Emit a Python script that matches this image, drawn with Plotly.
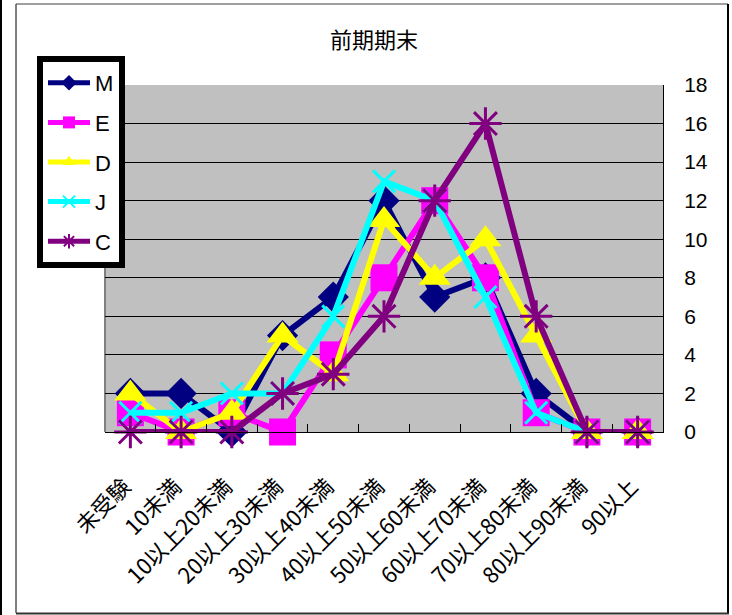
import plotly.graph_objects as go

# 得点帯ごとの人数（前期期末）
categories = ["未受験", "10未満", "10以上20未満", "20以上30未満", "30以上40未満",
              "40以上50未満", "50以上60未満", "60以上70未満", "70以上80未満",
              "80以上90未満", "90以上"]
M = [2, 2, 0, 5, 7, 12, 7, 8, 2, 0, 0]
E = [1, 0, 1, 0, 4, 8, 12, 8, 1, 0, 0]
D = [2, 0, 1, 5, 3, 11, 8, 10, 5, 0, 0]
J = [1, 1, 2, 2, 6, 13, 12, 7, 1, 0, 0]
C = [0, 0, 0, 2, 3, 6, 12, 16, 6, 0, 0]

W, H = 732, 615
ML, MR, MT, MB = 105, 69, 85, 183
PW, PH = W - ML - MR, H - MT - MB

FONT = "Liberation Sans, Arial, Noto Sans CJK JP, sans-serif"
CJK = "Noto Sans CJK JP, sans-serif"


def px_x(px):
    return (px - ML) / PW


def px_y(py):
    return (H - MB - py) / PH


series = [
    ("M", M, "#000080", "diamond", 24, 0),
    ("E", E, "#FF00FF", "square", 27, 0),
    ("D", D, "#FFFF00", "triangle-up", 28, 0),
    ("J", J, "#00FFFF", "x-thin-open", 22, 3),
    ("C", C, "#800080", "asterisk-open", 27, 3),
]

fig = go.Figure()
for name, vals, color, symbol, size, lw in series:
    fig.add_trace(go.Scatter(
        x=categories, y=vals, name=name, legendgroup=name,
        mode="lines+markers",
        line=dict(color=color, width=6),
        marker=dict(symbol=symbol, size=size, color=color,
                    line=dict(color=color, width=lw)),
        cliponaxis=False,
    ))

shapes = [
    # outer chart frame
    dict(type="line", xref="paper", yref="paper", x0=px_x(16), x1=px_x(16),
         y0=px_y(4), y1=px_y(613), line=dict(color="#000000", width=1)),
    dict(type="line", xref="paper", yref="paper", x0=px_x(16), x1=px_x(728),
         y0=px_y(4), y1=px_y(4), line=dict(color="#404040", width=1)),
    dict(type="line", xref="paper", yref="paper", x0=px_x(728), x1=px_x(728),
         y0=px_y(4), y1=px_y(614), line=dict(color="#000000", width=2)),
    dict(type="line", xref="paper", yref="paper", x0=px_x(16), x1=px_x(729),
         y0=px_y(613.5), y1=px_y(613.5), line=dict(color="#333333", width=2)),
    dict(type="line", xref="paper", yref="paper", x0=px_x(1), x1=px_x(1),
         y0=px_y(0), y1=px_y(615), line=dict(color="#000000", width=2)),
    # left edge of the plot area
    dict(type="line", xref="paper", yref="paper", x0=0, x1=0, y0=0, y1=1,
         line=dict(color="#808080", width=2), layer="below"),
]

fig.update_layout(
    width=W, height=H, autosize=False,
    margin=dict(l=ML, r=MR, t=MT, b=MB, pad=0),
    paper_bgcolor="#FFFFFF", plot_bgcolor="#C0C0C0",
    font=dict(family=FONT, color="#000000"),
    title=dict(text="前期期末", x=px_x(374), xref="paper", xanchor="center",
               y=1 - 40 / H, yref="container", yanchor="middle",
               font=dict(size=22, family=CJK)),
    showlegend=True,
    legend=dict(x=px_x(37), y=px_y(56), xanchor="left", yanchor="top",
                bgcolor="#FFFFFF", bordercolor="#000000", borderwidth=6,
                font=dict(size=22, family=FONT), itemwidth=42,
                itemsizing="constant", tracegroupgap=8, traceorder="grouped"),
    shapes=shapes,
    xaxis=dict(type="category", range=[-0.5, 10.5], showgrid=False,
               showline=True, linecolor="#000000", linewidth=1,
               ticks="inside", tickson="boundaries", ticklen=8,
               tickcolor="#000000", tickangle=-45,
               ticklabelstandoff=32, ticklabelshift=-6,
               tickfont=dict(size=22, family=CJK)),
    yaxis=dict(side="right", range=[0, 18], dtick=2, tick0=0,
               showgrid=True, gridcolor="#000000", gridwidth=1,
               showline=True, linecolor="#000000", linewidth=1,
               zeroline=False, ticks="", ticklabelstandoff=16,
               tickfont=dict(size=21, family=FONT)),
)

fig.write_html("out.html")
